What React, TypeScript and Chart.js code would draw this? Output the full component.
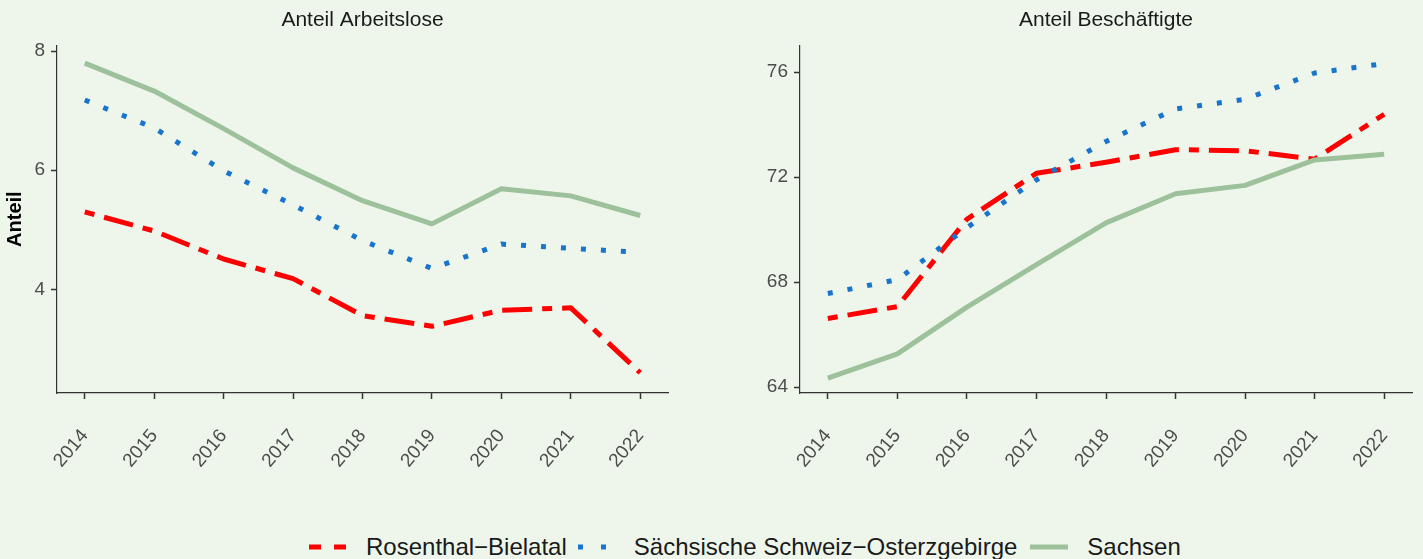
import React, { useEffect, useRef } from "react";
import { Chart, registerables } from "chart.js";

Chart.register(...registerables);

// ---------- data ----------
const years = [2014, 2015, 2016, 2017, 2018, 2019, 2020, 2021, 2022];
const seriesNames = ["Rosenthal−Bielatal", "Sächsische Schweiz−Osterzgebirge", "Sachsen"];
const panelTitles = ["Anteil Arbeitslose", "Anteil Beschäftigte"];
const yAxisTitle = "Anteil";

const arbeitsloseRosenthal = [5.30, 4.98, 4.51, 4.18, 3.56, 3.38, 3.65, 3.69, 2.60];
const arbeitsloseSSO = [7.18, 6.71, 5.99, 5.42, 4.82, 4.35, 4.76, 4.69, 4.62];
const arbeitsloseSachsen = [7.80, 7.33, 6.70, 6.04, 5.49, 5.10, 5.69, 5.57, 5.24];

const beschaeftigteRosenthal = [66.62, 67.07, 70.40, 72.15, 72.57, 73.05, 73.01, 72.69, 74.40];
const beschaeftigteSSO = [67.57, 68.10, 70.08, 71.90, 73.36, 74.60, 74.97, 75.97, 76.33];
const beschaeftigteSachsen = [64.35, 65.27, 67.05, 68.67, 70.26, 71.37, 71.69, 72.66, 72.88];

const leftYTicks = [4, 6, 8];
const rightYTicks = [64, 68, 72, 76];
const leftYRange = [2.26, 8.1];
const rightYRange = [63.78, 77.03];
const xRange = [2013.6, 2022.4];

// ---------- style ----------
const FONT = "'Liberation Sans', Arial, Helvetica, sans-serif";
const BG = "#EEF6EB";
const RED = "#FF0000";
const BLUE = "#1874CD";
const GREEN = "#9DC19B";
const AXIS = "#333333";
const TICKTXT = "#4D4D4D";

const seriesStyles = [
  { color: RED, dash: [10, 10, 30, 10] },
  { color: BLUE, dash: [5, 15] },
  { color: GREEN, dash: [] as number[] },
];

function makeDatasets(values: number[][]) {
  return values
    .map((vals, i) => ({
      label: seriesNames[i],
      data: vals.map((v, j) => ({ x: years[j], y: v })),
      borderColor: seriesStyles[i].color,
      backgroundColor: seriesStyles[i].color,
      borderWidth: 5,
      borderDash: seriesStyles[i].dash,
      borderCapStyle: "butt" as const,
      borderJoinStyle: "round" as const,
      pointRadius: 0,
      tension: 0,
      fill: false,
    }))
    .reverse();
}

function makeConfig(
  title: string,
  values: number[][],
  yTicks: number[],
  yRange: number[],
  yWidth: number,
  rightPad: number,
  showYTitle: boolean
): any {
  return {
    type: "line",
    data: { datasets: makeDatasets(values) },
    options: {
      animation: false,
      responsive: false,
      maintainAspectRatio: false,
      layout: { padding: { left: 0, right: rightPad, top: 0, bottom: 0 } },
      plugins: {
        legend: { display: false },
        tooltip: { enabled: false },
        title: {
          display: true,
          text: title,
          fullSize: false,
          color: "#1A1A1A",
          font: { family: FONT, size: 21, weight: "normal" },
          padding: { top: 8, bottom: 12 },
        },
      },
      scales: {
        x: {
          type: "linear",
          min: xRange[0],
          max: xRange[1],
          afterBuildTicks: (s: any) => {
            s.ticks = years.map((v) => ({ value: v }));
          },
          afterFit: (s: any) => {
            s.height = 107;
            s.paddingLeft = 0;
            s.paddingRight = 0;
          },
          grid: {
            drawOnChartArea: false,
            drawTicks: true,
            tickLength: 6,
            tickColor: AXIS,
            tickWidth: 1.5,
          },
          border: { display: true, color: AXIS, width: 1.2 },
          ticks: {
            autoSkip: false,
            minRotation: 50,
            maxRotation: 50,
            padding: 26,
            color: TICKTXT,
            font: { family: FONT, size: 19 },
            callback: (v: any) => String(v),
          },
        },
        y: {
          type: "linear",
          min: yRange[0],
          max: yRange[1],
          afterBuildTicks: (s: any) => {
            s.ticks = yTicks.map((v) => ({ value: v }));
          },
          afterFit: (s: any) => {
            s.width = yWidth;
            s.paddingTop = 0;
            s.paddingBottom = 0;
          },
          title: {
            display: showYTitle,
            text: yAxisTitle,
            color: "#000000",
            font: { family: FONT, size: 20, weight: "bold" },
            padding: { top: 3, bottom: 0 },
          },
          grid: {
            drawOnChartArea: false,
            drawTicks: true,
            tickLength: 6,
            tickColor: AXIS,
            tickWidth: 1.5,
          },
          border: { display: true, color: AXIS, width: 1.2 },
          ticks: {
            padding: 6,
            color: TICKTXT,
            font: { family: FONT, size: 19 },
            callback: (v: any) => String(v),
          },
        },
      },
    },
  };
}

function Panel(props: { left: number; width: number; config: any }) {
  const ref = useRef<HTMLCanvasElement | null>(null);
  useEffect(() => {
    if (!ref.current) return;
    const chart = new Chart(ref.current, props.config);
    return () => chart.destroy();
  }, []);
  return (
    <canvas
      ref={ref}
      width={props.width}
      height={500}
      style={{ position: "absolute", left: props.left, top: 0, width: props.width, height: 500, display: "block" }}
    />
  );
}

function LegendKey(props: { color: string; dash: string; offset: number }) {
  return (
    <svg width={38} height={10} style={{ display: "block", flex: "none" }}>
      <line
        x1={0}
        x2={38}
        y1={5}
        y2={5}
        stroke={props.color}
        strokeWidth={5}
        strokeDasharray={props.dash}
        strokeDashoffset={props.offset}
      />
    </svg>
  );
}

export default function App() {
  useEffect(() => {
    document.body.style.margin = "0";
    document.body.style.background = BG;
  }, []);

  const leftCfg = makeConfig(
    panelTitles[0],
    [arbeitsloseRosenthal, arbeitsloseSSO, arbeitsloseSachsen],
    leftYTicks,
    leftYRange,
    57,
    32,
    true
  );
  const rightCfg = makeConfig(
    panelTitles[1],
    [beschaeftigteRosenthal, beschaeftigteSSO, beschaeftigteSachsen],
    rightYTicks,
    rightYRange,
    100,
    11,
    false
  );

  const textStyle = { fontFamily: FONT, fontSize: 24, color: "#1A1A1A", whiteSpace: "nowrap" as const };

  return (
    <div style={{ position: "fixed", left: 0, top: 0, width: 1423, height: 559, background: BG, overflow: "hidden" }}>
      <Panel left={0} width={700} config={leftCfg} />
      <Panel left={700} width={723} config={rightCfg} />
      <div
        style={{
          position: "absolute",
          left: 309,
          top: 531,
          height: 32,
          display: "flex",
          alignItems: "center",
        }}
      >
        <LegendKey color={RED} dash="12 13" offset={0} />
        <span style={{ ...textStyle, marginLeft: 19 }}>{seriesNames[0]}</span>
        <div style={{ marginLeft: 9 }}>
          <LegendKey color={BLUE} dash="5 18" offset={-2} />
        </div>
        <span style={{ ...textStyle, marginLeft: 20 }}>{seriesNames[1]}</span>
        <div style={{ marginLeft: 13 }}>
          <LegendKey color={GREEN} dash="" offset={0} />
        </div>
        <span style={{ ...textStyle, marginLeft: 19 }}>{seriesNames[2]}</span>
      </div>
    </div>
  );
}
